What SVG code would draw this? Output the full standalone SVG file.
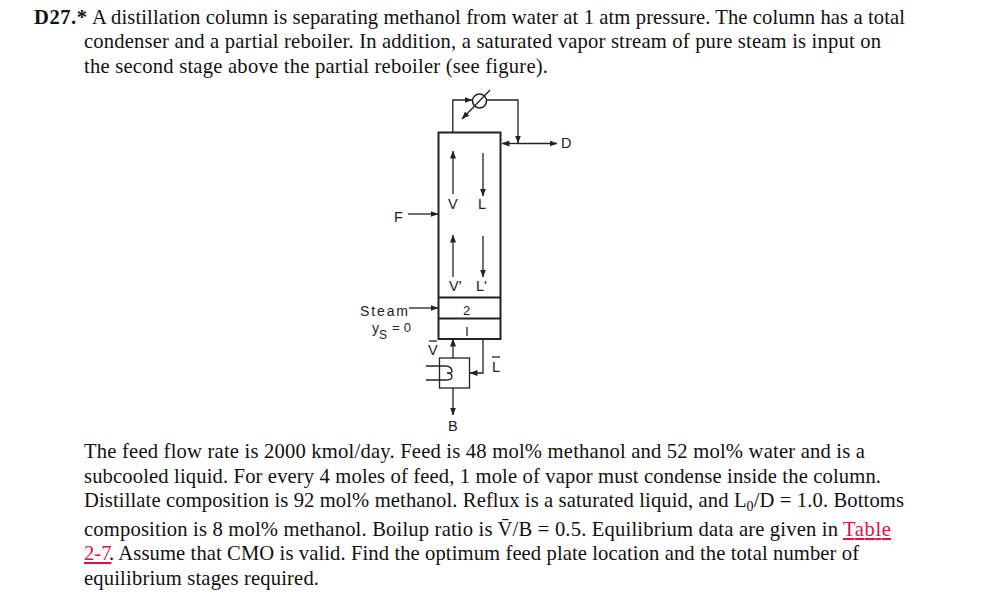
<svg xmlns="http://www.w3.org/2000/svg" width="981" height="594" viewBox="0 0 981 594">
<style>
.t{font-family:"Liberation Serif",serif;font-size:20.6px;fill:#111}
.b{font-weight:bold}
.lk{fill:#d0174e}
.d{font-family:"Liberation Sans",Arial,sans-serif;font-size:14.500px;fill:#222}
.s{fill:none;stroke:#222;stroke-width:1.3}
.h{fill:none;stroke:#222;stroke-width:2}
</style>
<defs>
<marker id="a" markerWidth="8" markerHeight="6" refX="7.5" refY="3" orient="auto" markerUnits="userSpaceOnUse"><path d="M0 0L8 3L0 6z" fill="#222"/></marker>
</defs>
<rect width="981" height="594" fill="#fff"/>
<g id="text-top">
<text class="t b" x="34" y="24" textLength="53">D27.*</text>
<text class="t" x="92" y="24" textLength="813">A distillation column is separating methanol from water at 1 atm pressure. The column has a total</text>
<text class="t" x="84" y="48" textLength="797">condenser and a partial reboiler. In addition, a saturated vapor stream of pure steam is input on</text>
<text class="t" x="84" y="73" textLength="464">the second stage above the partial reboiler (see figure).</text>
</g>
<g id="column">
<rect class="h" x="438.500" y="132.500" width="62" height="206.500"/>
<path class="h" d="M438.500 297.500H500.500M438.500 318.500H500.500"/>
<text class="d" x="463" y="315" style="font-size:13px">2</text>
<path class="s" d="M467 327V336"/>
</g>
<g id="condenser">
<circle class="s" cx="479.500" cy="101" r="7" style="stroke-width:1.500"/>
</g>
<g id="reboiler">
<rect class="s" x="439.500" y="358" width="30" height="30"/>
<path class="s" d="M426 366H445Q452 366 452 371.500Q452 373 447 373Q452 373 452 377Q452 380 445 380H426"/>
</g>
<g id="connectors">
<path class="s" d="M452.800 132V100H472" marker-end="url(#a)"/>
<path class="s" d="M490 90L462 119" marker-end="url(#a)"/>
<path class="s" d="M487 100H518V143" marker-end="url(#a)"/>
<path class="s" d="M518 143.500H502" marker-end="url(#a)"/>
<path class="s" d="M518 143.500H557" marker-end="url(#a)"/>
<path class="s" d="M453 194V151" marker-end="url(#a)"/>
<path class="s" d="M483 153V196" marker-end="url(#a)"/>
<path class="s" d="M453 277V235" marker-end="url(#a)"/>
<path class="s" d="M483 236V277" marker-end="url(#a)"/>
<path class="s" d="M408 214H438" marker-end="url(#a)"/>
<path class="s" d="M409 308H438" marker-end="url(#a)"/>
<path class="s" d="M453 358V339" marker-end="url(#a)"/>
<path class="s" d="M483 339V373H470" marker-end="url(#a)"/>
<path class="s" d="M453 388V415" marker-end="url(#a)"/>
</g>
<g id="labels">
<text class="d" x="561" y="148">D</text>
<text class="d" x="394" y="222">F</text>
<text class="d" x="448" y="209">V</text>
<text class="d" x="478" y="209">L</text>
<text class="d" x="449" y="291">V'</text>
<text class="d" x="476" y="291">L'</text>
<text class="d" x="360" y="316" style="font-size:14px" textLength="48">Steam</text>
<text class="d" x="372" y="333" style="font-size:14px">y</text>
<text class="d" x="379" y="339" style="font-size:12px">S</text>
<text class="d" x="392" y="332" style="font-size:13px" textLength="19">=0</text>
<text class="d" x="428" y="355">V</text>
<path class="s" d="M429 341H437"/>
<text class="d" x="492" y="372">L</text>
<path class="s" d="M492 357H500"/>
<text class="d" x="448" y="431">B</text>
</g>
<g id="text-bottom">
<text class="t" x="84" y="458" textLength="781">The feed flow rate is 2000 kmol/day. Feed is 48 mol% methanol and 52 mol% water and is a</text>
<text class="t" x="84" y="483" textLength="797">subcooled liquid. For every 4 moles of feed, 1 mole of vapor must condense inside the column.</text>
<text class="t" x="84" y="507" textLength="820">Distillate composition is 92 mol% methanol. Reflux is a saturated liquid, and L<tspan font-size="14" dy="4">0</tspan><tspan dy="-4">/D = 1.0. Bottoms</tspan></text>
<text class="t" x="84" y="536" textLength="754">composition is 8 mol% methanol. Boilup ratio is V̄/B = 0.5. Equilibrium data are given in</text>
<text class="t lk" x="843" y="536" textLength="48" text-decoration="underline">Table</text>
<text class="t lk" x="84" y="560" text-decoration="underline">2-7</text>
<text class="t" x="109" y="560" textLength="750">. Assume that CMO is valid. Find the optimum feed plate location and the total number of</text>
<text class="t" x="84" y="585" textLength="235">equilibrium stages required.</text>
</g>
</svg>
